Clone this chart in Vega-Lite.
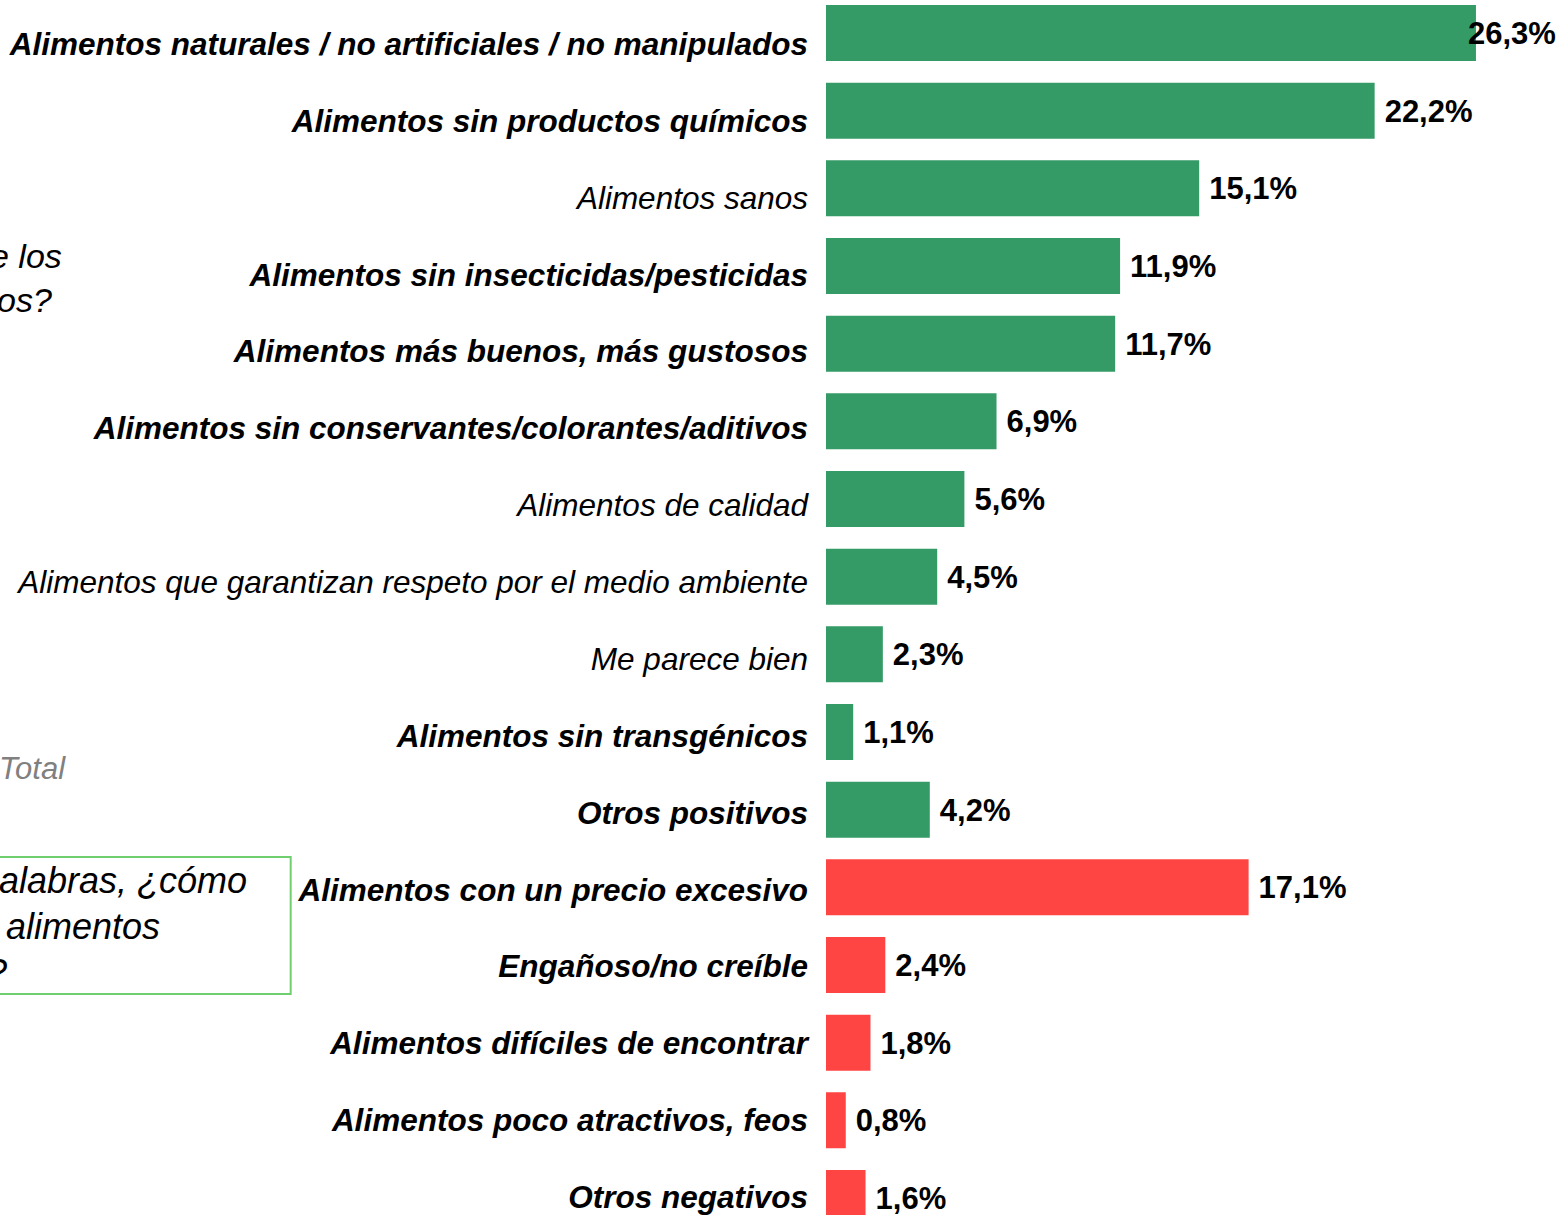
{
  "$schema": "https://vega.github.io/schema/vega-lite/v6.json",
  "width": 733,
  "height": 1215,
  "autosize": {"type": "none"},
  "padding": {"left": 826, "top": 0, "right": 0, "bottom": 0},
  "background": "#ffffff",
  "config": {
    "view": {"stroke": null},
    "font": "Liberation Sans",
    "locale": {"number": {"decimal": ",", "thousands": ".", "grouping": [3], "currency": ["", " €"]}}
  },
  "data": {
    "values": [
      {"label": "Alimentos naturales / no artificiales / no manipulados", "value": 0.263, "tipo": "positivo"},
      {"label": "Alimentos sin productos químicos", "value": 0.222, "tipo": "positivo"},
      {"label": "Alimentos sanos", "value": 0.151, "tipo": "positivo"},
      {"label": "Alimentos sin insecticidas/pesticidas", "value": 0.119, "tipo": "positivo"},
      {"label": "Alimentos más buenos, más gustosos", "value": 0.117, "tipo": "positivo"},
      {"label": "Alimentos sin conservantes/colorantes/aditivos", "value": 0.069, "tipo": "positivo"},
      {"label": "Alimentos de calidad", "value": 0.056, "tipo": "positivo"},
      {"label": "Alimentos que garantizan respeto por el medio ambiente", "value": 0.045, "tipo": "positivo"},
      {"label": "Me parece bien", "value": 0.023, "tipo": "positivo"},
      {"label": "Alimentos sin transgénicos", "value": 0.011, "tipo": "positivo"},
      {"label": "Otros positivos", "value": 0.042, "tipo": "positivo"},
      {"label": "Alimentos con un precio excesivo", "value": 0.171, "tipo": "negativo"},
      {"label": "Engañoso/no creíble", "value": 0.024, "tipo": "negativo"},
      {"label": "Alimentos difíciles de encontrar", "value": 0.018, "tipo": "negativo"},
      {"label": "Alimentos poco atractivos, feos", "value": 0.008, "tipo": "negativo"},
      {"label": "Otros negativos", "value": 0.016, "tipo": "negativo"}
    ]
  },
  "resolve": {"scale": {"y": "independent"}},
  "layer": [
    {
      "layer": [
        {
          "mark": {"type": "bar"},
          "encoding": {
            "y": {"field": "label", "type": "nominal", "sort": null, "axis": null,
                  "scale": {"type": "band", "range": [5, 1226], "paddingInner": 0.279, "paddingOuter": 0}},
            "x": {"field": "value", "type": "quantitative", "axis": null,
                  "scale": {"domain": [0, 0.2966], "nice": false, "zero": false}},
            "color": {"field": "tipo", "type": "nominal", "legend": null,
                      "scale": {"domain": ["positivo", "negativo"], "range": ["#349b66", "#ff4444"]}}
          }
        },
        {
          "transform": [{"filter": "datum.value < 0.25"}],
          "mark": {"type": "text", "align": "left", "baseline": "middle", "dx": 10, "dy": 2,
                   "font": "Liberation Sans", "fontSize": 31, "fontWeight": "bold", "color": "#000000"},
          "encoding": {
            "y": {"field": "label", "type": "nominal", "sort": null, "axis": null},
            "x": {"field": "value", "type": "quantitative", "axis": null,
                  "scale": {"domain": [0, 0.2966], "nice": false, "zero": false}},
            "text": {"field": "value", "type": "quantitative", "format": ".1%"}
          }
        },
        {
          "transform": [{"filter": "datum.value >= 0.25"}],
          "mark": {"type": "text", "align": "left", "baseline": "middle", "dx": -8, "dy": 2,
                   "font": "Liberation Sans", "fontSize": 31, "fontWeight": "bold", "color": "#000000"},
          "encoding": {
            "y": {"field": "label", "type": "nominal", "sort": null, "axis": null},
            "x": {"field": "value", "type": "quantitative", "axis": null,
                  "scale": {"domain": [0, 0.2966], "nice": false, "zero": false}},
            "text": {"field": "value", "type": "quantitative", "format": ".1%"}
          }
        }
      ]
    },
    {
      "layer": [
        {
          "mark": {"type": "text", "align": "right", "baseline": "middle", "dx": -18, "dy": 3,
                   "font": "Liberation Sans", "fontSize": 31.5, "fontStyle": "italic", "fontWeight": "bold", "color": "#000000"},
          "encoding": {
            "y": {"field": "label", "type": "nominal", "sort": null, "axis": null,
                  "scale": {"type": "point", "range": [4.57, 1234.5], "padding": 0.5}},
            "x": {"datum": 0, "type": "quantitative", "axis": null,
                  "scale": {"domain": [0, 0.2966], "nice": false, "zero": false}},
            "text": {"field": "label", "type": "nominal"},
            "opacity": {"condition": {"test": "indexof(['Alimentos sanos', 'Alimentos de calidad', 'Alimentos que garantizan respeto por el medio ambiente', 'Me parece bien'], datum.label) >= 0", "value": 0}, "value": 1}
          }
        },
        {
          "mark": {"type": "text", "align": "right", "baseline": "middle", "dx": -18, "dy": 3,
                   "font": "Liberation Sans", "fontSize": 31.5, "fontStyle": "italic", "fontWeight": "normal", "color": "#000000"},
          "encoding": {
            "y": {"field": "label", "type": "nominal", "sort": null, "axis": null},
            "x": {"datum": 0, "type": "quantitative", "axis": null,
                  "scale": {"domain": [0, 0.2966], "nice": false, "zero": false}},
            "text": {"field": "label", "type": "nominal"},
            "opacity": {"condition": {"test": "indexof(['Alimentos sanos', 'Alimentos de calidad', 'Alimentos que garantizan respeto por el medio ambiente', 'Me parece bien'], datum.label) >= 0", "value": 1}, "value": 0}
          }
        }
      ]
    },
    {
      "layer": [
        {
          "data": {"values": [{"caja": "pregunta"}]},
          "mark": {"type": "rect", "fill": "#ffffff", "fillOpacity": 0, "stroke": "#6fcf6f", "strokeWidth": 2},
          "encoding": {
            "x": {"datum": -0.34233, "type": "quantitative", "axis": null,
                  "scale": {"domain": [0, 0.2966], "nice": false, "zero": false}},
            "x2": {"datum": -0.21661},
            "y": {"datum": 10.609, "type": "quantitative", "axis": null,
                  "scale": {"domain": [-0.4249, 15.2185], "reverse": true, "nice": false, "zero": false}},
            "y2": {"datum": 12.373}
          }
        },
        {
          "data": {"values": [{"t": "e los"}]},
          "mark": {"type": "text", "align": "left", "baseline": "alphabetic", "font": "Liberation Sans", "fontSize": 34, "fontStyle": "italic", "color": "#000000"},
          "encoding": {
            "x": {"datum": -0.33829, "type": "quantitative", "axis": null, "scale": {"domain": [0, 0.2966], "nice": false, "zero": false}},
            "y": {"datum": 3.03, "type": "quantitative", "axis": null, "scale": {"domain": [-0.4249, 15.2185], "reverse": true, "nice": false, "zero": false}},
            "text": {"field": "t", "type": "nominal"}
          }
        },
        {
          "data": {"values": [{"t": "os?"}]},
          "mark": {"type": "text", "align": "left", "baseline": "alphabetic", "font": "Liberation Sans", "fontSize": 34, "fontStyle": "italic", "color": "#000000"},
          "encoding": {
            "x": {"datum": -0.33545, "type": "quantitative", "axis": null, "scale": {"domain": [0, 0.2966], "nice": false, "zero": false}},
            "y": {"datum": 3.59, "type": "quantitative", "axis": null, "scale": {"domain": [-0.4249, 15.2185], "reverse": true, "nice": false, "zero": false}},
            "text": {"field": "t", "type": "nominal"}
          }
        },
        {
          "data": {"values": [{"t": "Total"}]},
          "mark": {"type": "text", "align": "left", "baseline": "alphabetic", "font": "Liberation Sans", "fontSize": 31, "fontStyle": "italic", "color": "#808080"},
          "encoding": {
            "x": {"datum": -0.33464, "type": "quantitative", "axis": null, "scale": {"domain": [0, 0.2966], "nice": false, "zero": false}},
            "y": {"datum": 9.605, "type": "quantitative", "axis": null, "scale": {"domain": [-0.4249, 15.2185], "reverse": true, "nice": false, "zero": false}},
            "text": {"field": "t", "type": "nominal"}
          }
        },
        {
          "data": {"values": [{"t": "alabras, ¿cómo"}]},
          "mark": {"type": "text", "align": "left", "baseline": "alphabetic", "font": "Liberation Sans", "fontSize": 36, "fontStyle": "italic", "color": "#000000"},
          "encoding": {
            "x": {"datum": -0.33464, "type": "quantitative", "axis": null, "scale": {"domain": [0, 0.2966], "nice": false, "zero": false}},
            "y": {"datum": 11.072, "type": "quantitative", "axis": null, "scale": {"domain": [-0.4249, 15.2185], "reverse": true, "nice": false, "zero": false}},
            "text": {"field": "t", "type": "nominal"}
          }
        },
        {
          "data": {"values": [{"t": "alimentos"}]},
          "mark": {"type": "text", "align": "left", "baseline": "alphabetic", "font": "Liberation Sans", "fontSize": 36, "fontStyle": "italic", "color": "#000000"},
          "encoding": {
            "x": {"datum": -0.33181, "type": "quantitative", "axis": null, "scale": {"domain": [0, 0.2966], "nice": false, "zero": false}},
            "y": {"datum": 11.669, "type": "quantitative", "axis": null, "scale": {"domain": [-0.4249, 15.2185], "reverse": true, "nice": false, "zero": false}},
            "text": {"field": "t", "type": "nominal"}
          }
        },
        {
          "data": {"values": [{"t": "?"}]},
          "mark": {"type": "text", "align": "left", "baseline": "alphabetic", "font": "Liberation Sans", "fontSize": 36, "fontStyle": "italic", "color": "#000000"},
          "encoding": {
            "x": {"datum": -0.3395, "type": "quantitative", "axis": null, "scale": {"domain": [0, 0.2966], "nice": false, "zero": false}},
            "y": {"datum": 12.257, "type": "quantitative", "axis": null, "scale": {"domain": [-0.4249, 15.2185], "reverse": true, "nice": false, "zero": false}},
            "text": {"field": "t", "type": "nominal"}
          }
        }
      ]
    }
  ]
}
